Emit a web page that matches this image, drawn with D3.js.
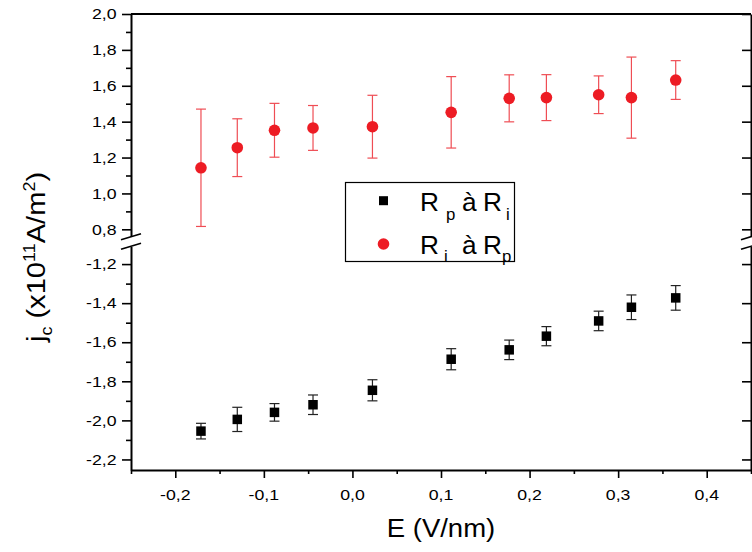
<!DOCTYPE html>
<html>
<head>
<meta charset="utf-8">
<script src="https://cdn.jsdelivr.net/npm/d3@7"></script>
<style>
  html, body { margin: 0; padding: 0; background: #fff; }
  svg { display: block; }
  text { font-family: "Liberation Sans", Arial, sans-serif; fill: #000; }
</style>
</head>
<body>
<svg id="chart" width="752" height="552"></svg>
<script>
// ---------------- data ----------------
const E = [-0.171, -0.130, -0.088, -0.0445, 0.0226, 0.1115, 0.177, 0.219, 0.278, 0.315, 0.365];
const riToRp = [1.143, 1.255, 1.352, 1.365, 1.372, 1.452, 1.530, 1.534, 1.550, 1.534, 1.632];
const riToRpErr = [0.327, 0.161, 0.150, 0.125, 0.175, 0.199, 0.131, 0.128, 0.105, 0.226, 0.108];
const rpToRi = [-2.055, -1.995, -1.959, -1.920, -1.846, -1.687, -1.639, -1.569, -1.491, -1.421, -1.373];
const rpToRiErr = [0.040, 0.062, 0.045, 0.050, 0.054, 0.054, 0.050, 0.049, 0.050, 0.063, 0.063];
const xTicks = [-0.2, -0.1, 0.0, 0.1, 0.2, 0.3, 0.4];
const xMinorTicks = [-0.25, -0.15, -0.05, 0.05, 0.15, 0.25, 0.35, 0.45];
const yUpperTicks = [0.8, 1.0, 1.2, 1.4, 1.6, 1.8, 2.0];
const yUpperMinor = [0.9, 1.1, 1.3, 1.5, 1.7, 1.9];
const yLowerTicks = [-2.2, -2.0, -1.8, -1.6, -1.4, -1.2];
const yLowerMinor = [-2.1, -1.9, -1.7, -1.5, -1.3];

// ---------------- layout ----------------
const L = 131, R = 751, T = 14, B = 470;
const RED = "#ed1c24";
const svg = d3.select("#chart");

const x = d3.scaleLinear().domain([-0.25, 0.45]).range([L, R]);
const yUp = d3.scaleLinear().domain([0.76, 2.0]).range([236.5, T]);
const yLo = d3.scaleLinear().domain([-2.254, -1.11]).range([B, 246.5]);

const loc = d3.formatLocale({decimal: ",", thousands: ".", grouping: [3], currency: ["", ""], minus: "-"});
const fmt = loc.format(".1f");

const tickFont = 15, tickScale = 1.18;

// ---- X axis (bottom) ----
const gx = svg.append("g").attr("transform", `translate(0,${B})`);
gx.call(d3.axisBottom(x).tickValues(xTicks).tickSize(8).tickSizeOuter(0).tickFormat(""));
gx.call(g => g.select(".domain").attr("stroke-width", 2));
gx.selectAll(".tick line").attr("stroke-width", 1.6);
const gxm = svg.append("g").attr("transform", `translate(0,${B})`);
gxm.call(d3.axisBottom(x).tickValues(xMinorTicks).tickSize(4).tickSizeOuter(0).tickFormat(""));
gxm.select(".domain").remove();
gxm.selectAll(".tick line").attr("stroke-width", 1.6);
svg.append("g").selectAll("text").data(xTicks).join("text")
  .attr("transform", d => `translate(${x(d)},${B + 29.5}) scale(${tickScale},1)`)
  .attr("text-anchor", "middle").attr("font-size", tickFont)
  .text(d => fmt(d));

// ---- top frame line ----
svg.append("line").attr("x1", L).attr("x2", R).attr("y1", T).attr("y2", T)
  .attr("stroke", "#000").attr("stroke-width", 2);

// ---- Y axes (left: outward ticks + labels; right: inward ticks) ----
function yAxisPart(scale, major, minor) {
  const gl = svg.append("g").attr("transform", `translate(${L},0)`);
  gl.call(d3.axisLeft(scale).tickValues(major).tickSize(9).tickSizeOuter(0).tickFormat(""));
  gl.select(".domain").attr("stroke-width", 2);
  gl.selectAll(".tick line").attr("stroke-width", 1.6);
  const glm = svg.append("g").attr("transform", `translate(${L},0)`);
  glm.call(d3.axisLeft(scale).tickValues(minor).tickSize(5).tickFormat(""));
  glm.select(".domain").remove();
  glm.selectAll(".tick line").attr("stroke-width", 1.6);

  svg.append("g").selectAll("text").data(major).join("text")
    .attr("transform", d => `translate(${L - 14.5},${scale(d)}) scale(${tickScale},1)`)
    .attr("text-anchor", "end").attr("dy", "0.35em").attr("font-size", tickFont)
    .text(d => fmt(d));

  const gr = svg.append("g").attr("transform", `translate(${R},0)`);
  gr.call(d3.axisLeft(scale).tickValues(major).tickSize(-9).tickSizeOuter(0).tickFormat(""));
  gr.select(".domain").attr("stroke-width", 2);
  gr.selectAll(".tick line").attr("stroke-width", 1.6).attr("x2", -9);
  const grm = svg.append("g").attr("transform", `translate(${R},0)`);
  grm.call(d3.axisLeft(scale).tickValues(minor).tickSize(-5).tickFormat(""));
  grm.select(".domain").remove();
  grm.selectAll(".tick line").attr("stroke-width", 1.6);
}
yAxisPart(yUp, yUpperTicks, yUpperMinor);
yAxisPart(yLo, yLowerTicks, yLowerMinor);

// ---- axis break marks ----
function breakMarks(cx) {
  const yb = (yUp.range()[0] + yLo.range()[1]) / 2;
  const g = svg.append("g");
  [-4.8, 4.8].forEach(off => {
    g.append("line")
      .attr("x1", cx - 10).attr("y1", yb + off + 3)
      .attr("x2", cx + 10).attr("y2", yb + off - 3)
      .attr("stroke", "#000").attr("stroke-width", 1.6);
  });
}
breakMarks(L);
breakMarks(R);

// ---- error bars + markers ----
const cap = 5;
function errorBars(vals, errs, scale, color, width) {
  const g = svg.append("g").attr("stroke", color).attr("stroke-width", width).attr("fill", "none");
  vals.forEach((v, i) => {
    const cx = x(E[i]), y1 = scale(v + errs[i]), y2 = scale(v - errs[i]);
    g.append("line").attr("x1", cx).attr("x2", cx).attr("y1", y1).attr("y2", y2);
    g.append("line").attr("x1", cx - cap).attr("x2", cx + cap).attr("y1", y1).attr("y2", y1);
    g.append("line").attr("x1", cx - cap).attr("x2", cx + cap).attr("y1", y2).attr("y2", y2);
  });
}
errorBars(riToRp, riToRpErr, yUp, "#ef4d54", 1.2);
errorBars(rpToRi, rpToRiErr, yLo, "#222", 1.2);

svg.append("g").selectAll("circle").data(riToRp).join("circle")
  .attr("cx", (d, i) => x(E[i])).attr("cy", d => yUp(d)).attr("r", 5.8)
  .attr("fill", RED);
const sq = 9.5;
svg.append("g").selectAll("rect").data(rpToRi).join("rect")
  .attr("x", (d, i) => x(E[i]) - sq / 2).attr("y", d => yLo(d) - sq / 2)
  .attr("width", sq).attr("height", sq).attr("fill", "#000");

// ---- legend ----
const lg = svg.append("g").attr("transform", "translate(345,182)");
lg.append("rect").attr("x", 0.5).attr("y", 0.5).attr("width", 169).attr("height", 79)
  .attr("fill", "#fff").attr("stroke", "#000").attr("stroke-width", 1.2);
lg.append("rect").attr("x", 38.5 - 4.5).attr("y", 18.7 - 4.5).attr("width", 9).attr("height", 9).attr("fill", "#000");
lg.append("circle").attr("cx", 38.5).attr("cy", 62).attr("r", 5.8).attr("fill", RED);
const legendRows = [
  {y: 29, parts: [["R", 75, 0, 25], ["p", 101, 8.5, 16], ["à", 117, 0, 25], ["R", 138, 0, 25], ["i", 161, 8.5, 16]]},
  {y: 71.5, parts: [["R", 75, 0, 25], ["i", 99, 8.5, 16], ["à", 117, 0, 25], ["R", 138, 0, 25], ["p", 157, 8.5, 16]]}
];
legendRows.forEach(row => {
  row.parts.forEach(([t, px, dy, fs]) => {
    lg.append("text").attr("transform", `translate(${px},${row.y + dy}) scale(1.05,1)`)
      .attr("font-size", fs).text(t);
  });
});

// ---- axis titles ----
svg.append("text").attr("transform", `translate(${(L + R) / 2},537) scale(1.1,1)`)
  .attr("text-anchor", "middle").attr("font-size", 25).text("E (V/nm)");

const yt = svg.append("text")
  .attr("transform", "translate(45,257) rotate(-90) scale(1.12,1)")
  .attr("text-anchor", "middle").attr("font-size", 26);
yt.append("tspan").text("j");
yt.append("tspan").attr("font-size", 16).attr("dy", 7).text("c");
yt.append("tspan").attr("dy", -7).text(" (x10");
yt.append("tspan").attr("font-size", 16).attr("dy", -10).text("11");
yt.append("tspan").attr("dy", 10).text("A/m");
yt.append("tspan").attr("font-size", 16).attr("dy", -10).text("2");
yt.append("tspan").attr("dy", 10).text(")");
</script>
</body>
</html>
